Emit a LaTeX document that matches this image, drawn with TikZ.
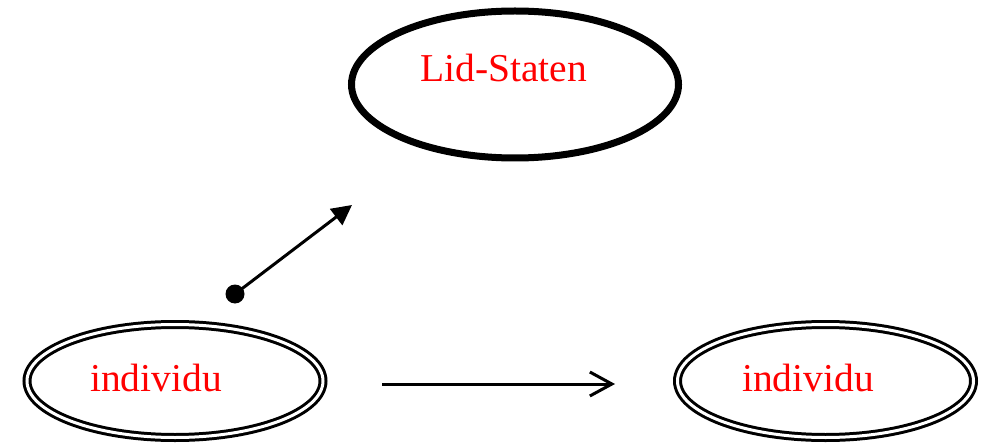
\documentclass[tikz,border=0pt]{standalone}
\usepackage{fontspec}
\setmainfont{Liberation Serif}
\usetikzlibrary{shapes.geometric,arrows.meta}
\begin{document}
\begin{tikzpicture}[x=1pt,y=1pt,
  thickell/.style={draw, ellipse, line width=7pt, inner sep=0pt, outer sep=0pt, minimum width=327pt, minimum height=147pt},
  dblell/.style={draw, ellipse, double, double distance=3pt, line width=3pt, inner sep=0pt, outer sep=0pt, minimum width=296pt, minimum height=113pt},
  lbl/.style={text=red, font=\fontsize{39.5pt}{40pt}\selectfont, inner sep=0pt, anchor=base west},
  conn/.style={line width=3pt}]
\useasboundingbox (0,0) rectangle (987,445);
\node[thickell] (top) at (515,360.5) {};
\node[dblell] (left) at (175,64) {};
\node[dblell] (right) at (825.5,64) {};
\node[lbl] (toplbl) at (420,363) {Lid-Staten};
\node[lbl] (leftlbl) at (90,54) {individu};
\node[lbl] (rightlbl) at (742,54) {individu};
\node[circle, fill=black, inner sep=0pt, minimum size=19pt] (dot) at (235,151) {};
\coordinate (tip1) at (352,240);
\coordinate (a2s) at (382,61);
\coordinate (a2e) at (615,61);
\draw[conn, -{Triangle[length=20pt,width=20pt]}] (dot.center) -- (tip1);
\draw[conn, -{Straight Barb[length=22pt,width=24pt,line width=3pt]}] (a2s) -- (a2e);
\end{tikzpicture}
\end{document}
